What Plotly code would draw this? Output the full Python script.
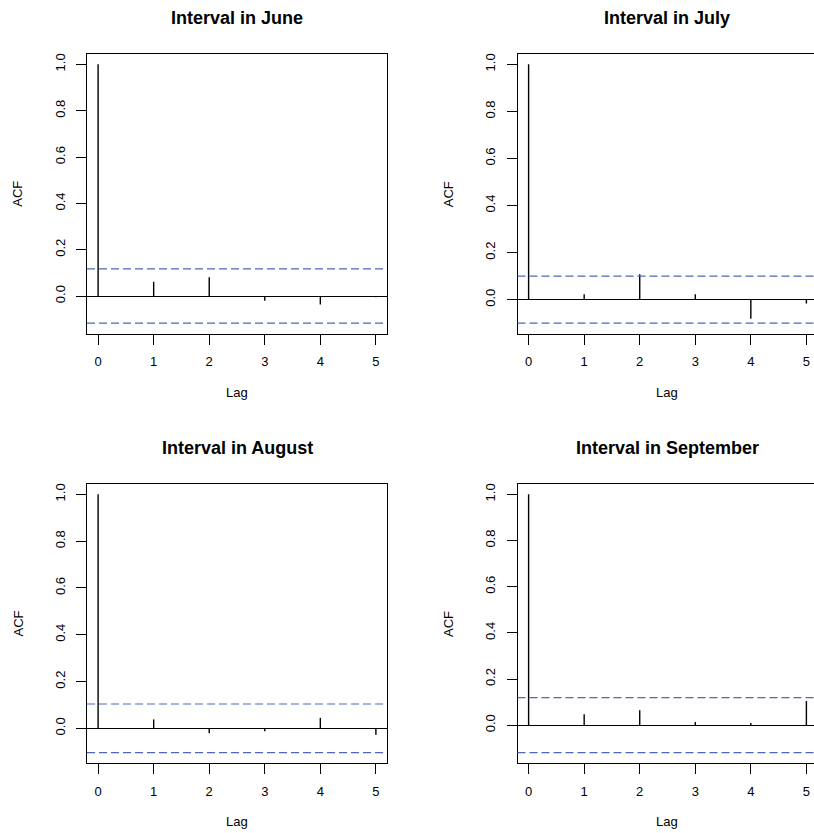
import plotly.graph_objects as go

# ---------------- data ----------------
lags = [0, 1, 2, 3, 4, 5]
titles = ["Interval in June", "Interval in July", "Interval in August", "Interval in September"]
acf_june = [1.0, 0.062, 0.081, -0.020, -0.036, -0.005]
acf_july = [1.0, 0.023, 0.108, 0.023, -0.081, -0.017]
acf_august = [1.0, 0.038, -0.021, -0.013, 0.045, -0.027]
acf_september = [1.0, 0.047, 0.065, 0.014, 0.010, 0.105]
ci_values = [0.117, 0.100, 0.104, 0.119]
y_tick_vals = [0.0, 0.2, 0.4, 0.6, 0.8, 1.0]
x_tick_vals = [0, 1, 2, 3, 4, 5]
x_label = "Lag"
y_label = "ACF"

series = [acf_june, acf_july, acf_august, acf_september]

# ---------------- layout geometry (pixels) ----------------
W, H = 814, 833
FONT = "Liberation Sans, Arial, Helvetica, sans-serif"
col_px = [(87.0, 387.0), (517.5, 817.0)]   # right column box is cropped by figure edge
row_px = [(54.0, 333.5), (484.0, 763.0)]
px_per_lag = (387.0 - 87.0) / 5.4

fig = go.Figure()
annotations = []
shapes = []

for i, (vals, ci, title) in enumerate(zip(series, ci_values, titles)):
    r, c = divmod(i, 2)
    idx = "" if i == 0 else str(i + 1)
    xa, ya = "x" + idx, "y" + idx
    x0p, x1p = col_px[c]
    y0p, y1p = row_px[r]
    x1_vis = min(x1p, W)
    xdom = [x0p / W, x1_vis / W]
    ydom = [1 - y1p / H, 1 - y0p / H]

    # R-style axis ranges (4% expansion)
    xmin, xmax = min(lags), max(lags)
    xr = xmax - xmin
    xlo = xmin - 0.04 * xr
    xhi = xlo + (x1_vis - x0p) / px_per_lag
    ymin = min(min(vals), -ci)
    ymax = max(max(vals), ci)
    yr = ymax - ymin
    ylo, yhi = ymin - 0.04 * yr, ymax + 0.04 * yr

    # spikes (type = "h")
    xs, ys = [], []
    for l, v in zip(lags, vals):
        xs += [l, l, None]
        ys += [0, v, None]
    fig.add_trace(go.Scatter(x=xs, y=ys, mode="lines", xaxis=xa, yaxis=ya,
                             line=dict(color="black", width=1.4),
                             hoverinfo="skip", showlegend=False, cliponaxis=False))

    # confidence bands
    for yv in (ci, -ci):
        shapes.append(dict(type="line", xref=xa + " domain", yref=ya,
                           x0=0, x1=1, y0=yv, y1=yv,
                           line=dict(color="#4f66bf", width=1.2, dash="8px,4px")))

    axkey = "xaxis" + idx
    aykey = "yaxis" + idx
    fig.layout[axkey] = dict(domain=xdom, anchor=ya, range=[xlo, xhi],
                             tickmode="array", tickvals=x_tick_vals,
                             ticktext=[str(v) for v in x_tick_vals],
                             showline=True, mirror=True, linecolor="black", linewidth=1,
                             ticks="outside", ticklen=10, tickcolor="black", tickwidth=1,
                             ticklabelstandoff=6,
                             showgrid=False, zeroline=False, fixedrange=True,
                             tickfont=dict(family=FONT, size=13, color="black"))
    fig.layout[aykey] = dict(domain=ydom, anchor=xa, range=[ylo, yhi],
                             tickmode="array", tickvals=y_tick_vals,
                             ticktext=["%.1f" % v for v in y_tick_vals],
                             tickangle=-90,
                             showline=True, mirror=(c == 0), linecolor="black", linewidth=1,
                             ticks="outside", ticklen=10, tickcolor="black", tickwidth=1,
                             ticklabelstandoff=6,
                             showgrid=False, zeroline=True, zerolinecolor="black",
                             zerolinewidth=1, fixedrange=True,
                             tickfont=dict(family=FONT, size=13, color="black"))

    cx = (x0p + x1p) / 2
    # title
    annotations.append(dict(text="<b>" + title + "</b>", xref="paper", yref="paper",
                            x=cx / W, y=1 - (y0p - 36) / H, showarrow=False,
                            xanchor="center", yanchor="middle",
                            font=dict(family=FONT, size=18, color="black")))
    # x label
    annotations.append(dict(text=x_label, xref="paper", yref="paper",
                            x=cx / W, y=1 - (y1p + 58.5) / H, showarrow=False,
                            xanchor="center", yanchor="middle",
                            font=dict(family=FONT, size=13, color="black")))
    # y label
    annotations.append(dict(text=y_label, xref="paper", yref="paper",
                            x=(x0p - 69) / W, y=1 - ((y0p + y1p) / 2) / H, showarrow=False,
                            textangle=-90, xanchor="center", yanchor="middle",
                            font=dict(family=FONT, size=13, color="black")))

fig.update_layout(width=W, height=H, margin=dict(l=0, r=0, t=0, b=0),
                  paper_bgcolor="white", plot_bgcolor="white",
                  annotations=annotations, shapes=shapes, showlegend=False)

fig.write_html("out.html", config={"displayModeBar": False},
               post_script="document.body.style.margin='0';document.body.style.overflow='hidden';")
